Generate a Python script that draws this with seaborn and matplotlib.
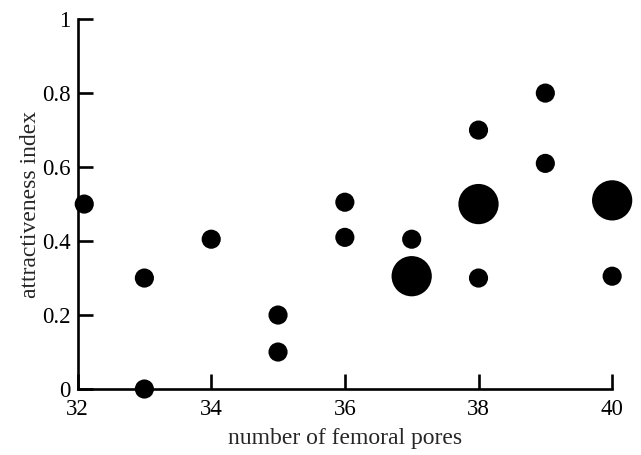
import pandas as pd
import matplotlib
matplotlib.use("Agg")
import matplotlib.pyplot as plt
import seaborn as sns

# values
pores = [32.1, 33, 33, 34, 35, 35, 36, 36, 37, 37, 38, 38, 38, 39, 39, 40, 40]
attract = [0.50, 0.30, 0.0, 0.405, 0.20, 0.10, 0.505, 0.41, 0.405, 0.305, 0.70, 0.50, 0.30, 0.80, 0.61, 0.51, 0.305]
count = [1, 1, 1, 1, 1, 1, 1, 1, 1, 2, 1, 2, 1, 1, 1, 2, 1]

x_ticks = [32, 34, 36, 38, 40]
y_ticks = [0, 0.2, 0.4, 0.6, 0.8, 1]
y_tick_labels = ["0", "0.2", "0.4", "0.6", "0.8", "1"]

df = pd.DataFrame({"pores": pores, "attract": attract, "count": count})

sns.set_style("white")
plt.rcParams["font.family"] = ["Liberation Serif", "DejaVu Serif"]

fig = plt.figure(figsize=(6.41, 4.55), dpi=100)
ax = fig.add_axes([0.121, 0.145, 0.834, 0.813])

sns.scatterplot(data=df, x="pores", y="attract", size="count", sizes=(190, 840),
                color="black", edgecolor="none", legend=False, clip_on=False, ax=ax)

ax.set_xlim(32, 40)
ax.set_ylim(0, 1)
ax.set_xticks(x_ticks)
ax.set_xticklabels([str(t) for t in x_ticks])
ax.set_yticks(y_ticks)
ax.set_yticklabels(y_tick_labels)

for side in ["top", "right"]:
    ax.spines[side].set_visible(False)
for side in ["left", "bottom"]:
    ax.spines[side].set_linewidth(1.9)
    ax.spines[side].set_color("black")

ax.tick_params(bottom=True, left=True, direction="in", length=11, width=1.9,
               labelsize=16.5, colors="black")
ax.tick_params(axis="x", pad=7)
ax.tick_params(axis="y", pad=5)
ax.set_xlabel("number of femoral pores", fontsize=17, labelpad=6)
ax.set_ylabel("attractiveness index", fontsize=17, labelpad=1)

fig.savefig("out.png", dpi=100)
